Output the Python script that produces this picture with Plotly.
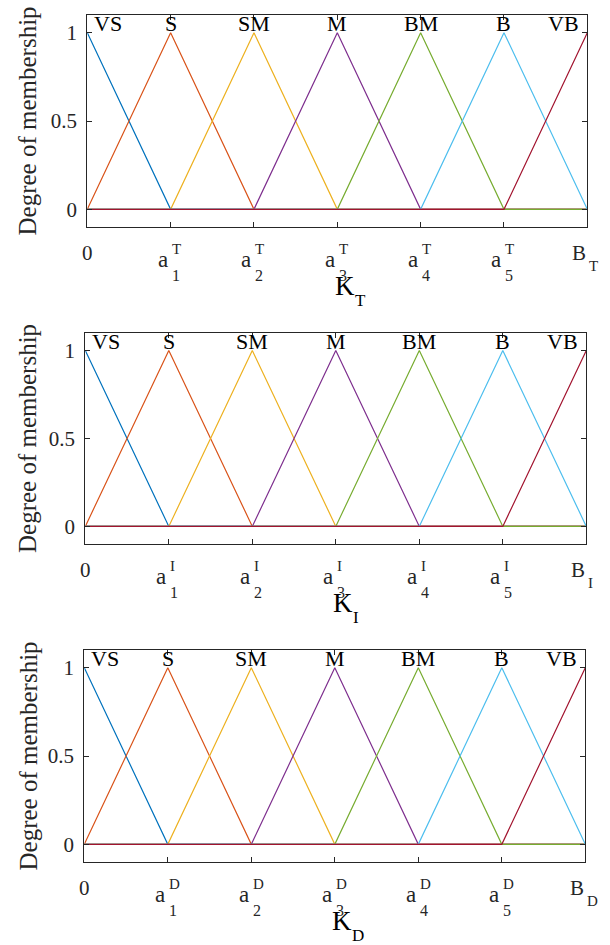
import plotly.graph_objects as go

# ---------------- data ----------------
breakpoints = [0, 1, 2, 3, 4, 5, 6]          # 0, a1 .. a5, B
set_names = ["VS", "S", "SM", "M", "BM", "B", "VB"]
mu_VS = [1, 0, 0, 0, 0, 0, 0]
mu_S  = [0, 1, 0, 0, 0, 0, 0]
mu_SM = [0, 0, 1, 0, 0, 0, 0]
mu_M  = [0, 0, 0, 1, 0, 0, 0]
mu_BM = [0, 0, 0, 0, 1, 0, 0]
mu_B  = [0, 0, 0, 0, 0, 1, 0]
mu_VB = [0, 0, 0, 0, 0, 0, 1]
memberships = [mu_VS, mu_S, mu_SM, mu_M, mu_BM, mu_B, mu_VB]
label_peaks = [0, 1, 2, 3, 4, 5, 6]

gains = ["T", "I", "D"]                      # K_T, K_I, K_D
tick_main = ["0", "a", "a", "a", "a", "a", "B"]
tick_index = ["", "1", "2", "3", "4", "5", ""]
y_ticks = [0, 0.5, 1]
y_ticktext = ["0", "0.5", "1"]

colors = ["#0072BD", "#D95319", "#EDB120", "#7E2F8E", "#77AC30", "#4DBEEE", "#A2142F"]

# ---------------- layout geometry ----------------
W, H = 610, 945
x_dom_px = [(87.3, 587.3), (85.3, 586.3), (84.3, 585.3)]
y_dom_px = [(15, 227), (333, 544), (650, 862)]

FONT = "Liberation Serif"
AX = "#262626"

fig = go.Figure()
layout = dict(width=W, height=H, margin=dict(l=0, r=0, t=0, b=0),
              paper_bgcolor="white", plot_bgcolor="white", showlegend=False)
annotations = []


def ann(**kw):
    base = dict(showarrow=False, borderpad=0, font=dict(family=FONT, color=AX))
    f = kw.pop("font", {})
    base["font"].update(f)
    base.update(kw)
    annotations.append(base)


for p, g in enumerate(gains):
    sfx = "" if p == 0 else str(p + 1)
    xa, ya = "x" + sfx, "y" + sfx
    x0, x1 = x_dom_px[p]
    yt, yb = y_dom_px[p]
    layout["xaxis" + sfx] = dict(
        domain=[x0 / W, x1 / W], range=[0, 6], anchor=ya,
        tickvals=breakpoints, showticklabels=False, ticks="inside", ticklen=5,
        tickcolor=AX, showline=True, linecolor=AX, linewidth=1, mirror="ticks",
        showgrid=False, zeroline=False, fixedrange=True)
    layout["yaxis" + sfx] = dict(
        domain=[1 - yb / H, 1 - yt / H], range=[-0.1, 1.1], anchor=xa,
        tickvals=y_ticks, ticktext=y_ticktext, ticks="inside", ticklen=5,
        tickcolor=AX, showline=True, linecolor=AX, linewidth=1, mirror="ticks",
        showgrid=False, zeroline=False, ticklabelstandoff=5,
        tickfont=dict(family=FONT, size=21, color=AX), fixedrange=True)

    for mu, c in zip(memberships, colors):
        fig.add_trace(go.Scatter(x=breakpoints, y=mu, mode="lines",
                                 line=dict(color=c, width=1.2),
                                 xaxis=xa, yaxis=ya, hoverinfo="skip"))

    ydom = ya + " domain"
    # set labels at the top of each peak
    for k, (name, xp) in enumerate(zip(set_names, label_peaks)):
        if k == 0:
            xanchor, xs = "left", 6
        elif k == len(set_names) - 1:
            xanchor, xs = "right", -7
        else:
            xanchor, xs = "center", 0
        ann(text=name, x=xp, y=1, xref=xa, yref=ya, xanchor=xanchor,
            yanchor="bottom", xshift=xs, yshift=-4.2,
            font=dict(size=22, color="black"))

    # x tick labels: 0, a_i^g, B_g
    for k, (tv, main, idx) in enumerate(zip(breakpoints, tick_main, tick_index)):
        if main == "0":
            ann(text=main, x=tv, y=0, xref=xa, yref=ydom, xanchor="center",
                yanchor="top", yshift=-12.6, font=dict(size=21))
        elif main == "a":
            ann(text=main, x=tv, y=0, xref=xa, yref=ydom, xanchor="right",
                yanchor="top", xshift=-1.5, yshift=-19.2, font=dict(size=23))
            ann(text=g, x=tv, y=0, xref=xa, yref=ydom, xanchor="left",
                yanchor="top", xshift=0.5, yshift=-12.6, font=dict(size=15))
            ann(text=idx, x=tv, y=0, xref=xa, yref=ydom, xanchor="left",
                yanchor="top", xshift=0.5, yshift=-38.7, font=dict(size=16))
        else:
            ann(text=main, x=tv, y=0, xref=xa, yref=ydom, xanchor="right",
                yanchor="top", xshift=0, yshift=-12.6, font=dict(size=21))
            ann(text=g, x=tv, y=0, xref=xa, yref=ydom, xanchor="left",
                yanchor="top", xshift=1, yshift=-29.6, font=dict(size=15))

    # axis title K_g
    ann(text="K", x=3, y=0, xref=xa, yref=ydom, xanchor="left", yanchor="top",
        xshift=-3.5, yshift=-43, font=dict(size=27, color="black"))
    ann(text=g, x=3, y=0, xref=xa, yref=ydom, xanchor="left", yanchor="top",
        xshift=16.5, yshift=-62.5, font=dict(size=17, color="black"))

    # y title
    ann(text="Degree of membership", x=0, y=0.5, xref="paper", yref=ydom,
        xanchor="left", yanchor="middle", xshift=13, textangle=-90,
        font=dict(size=25))

layout["annotations"] = annotations
fig.update_layout(**layout)
fig.write_html("out.html", config={"displayModeBar": False},
               post_script="document.body.style.margin='0px';"
                           "document.body.style.overflow='hidden';")
